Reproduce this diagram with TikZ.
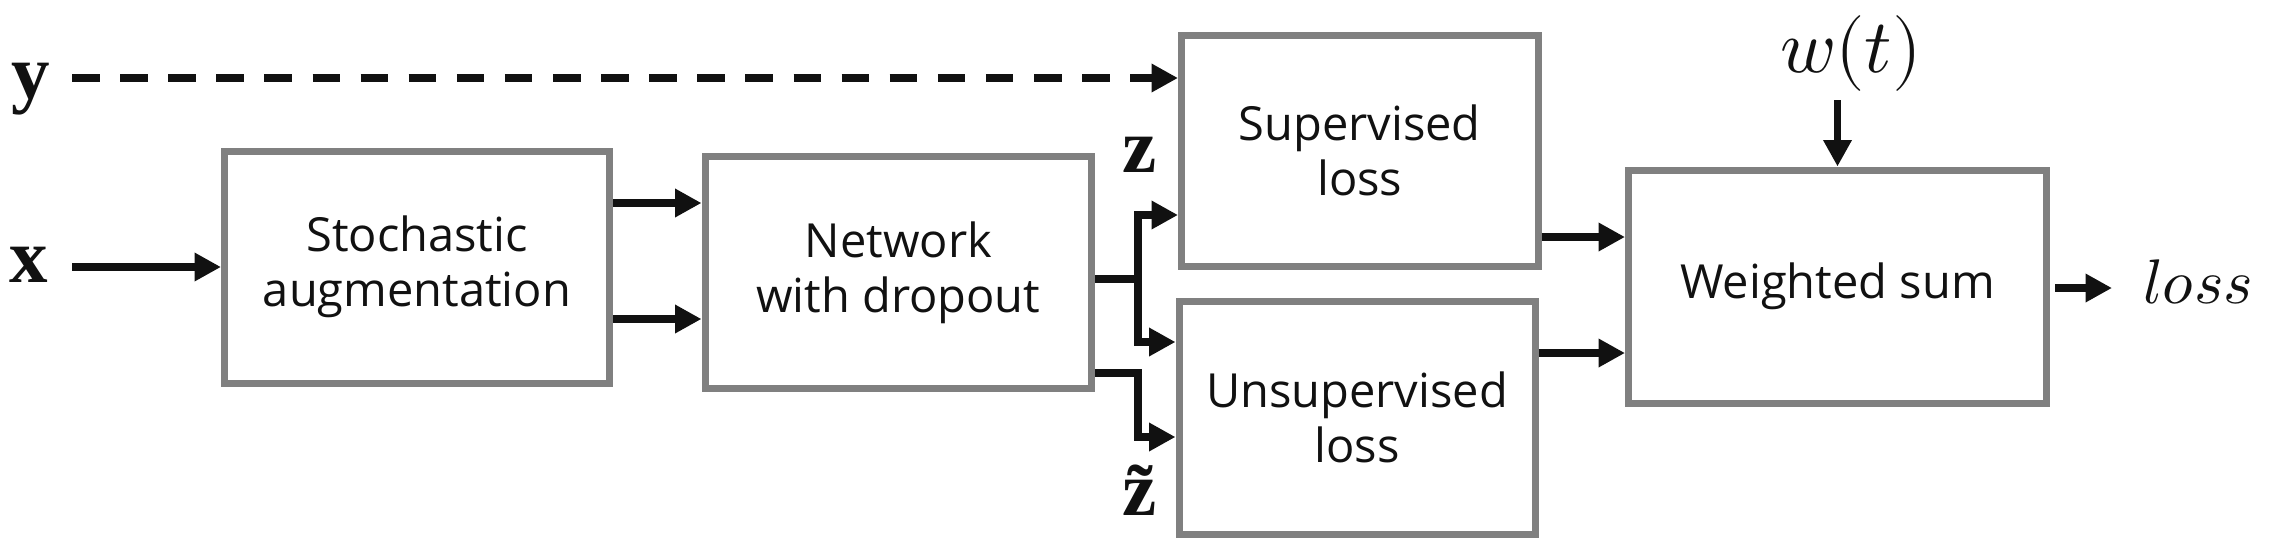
\documentclass[tikz,border=0pt]{standalone}
\usepackage{fontspec}
\usepackage{unicode-math}
\setmainfont{Open Sans}
\setmathfont{Latin Modern Math}
\newfontfamily\timesfam{Liberation Serif}
\usetikzlibrary{arrows.meta,calc}
\definecolor{boxgray}{RGB}{128,128,128}
\definecolor{ink}{RGB}{17,17,17}
\begin{document}
\begin{tikzpicture}[x=0.5pt,y=-0.5pt,
  box/.style={draw=boxgray,line width=3.5pt,inner sep=0pt,align=center,text=ink,
     font=\fontsize{23.5}{27.5}\selectfont},
  arr/.style={draw=ink,line width=3.75pt,-{Triangle[length=13.25pt,width=13.5pt]}},
  wire/.style={draw=ink,line width=3.75pt},
  lab/.style={inner sep=0pt,anchor=base,text=ink,font=\fontsize{38.5}{40}\selectfont\timesfam\bfseries},
  mathlab/.style={inner sep=0pt,anchor=base,text=ink}]
\useasboundingbox (0,0) rectangle (2276,537);
\fill[white] (0,0) rectangle (2276,537);

% boxes
\node[box,minimum width=192.5pt,minimum height=115.75pt] (stoch) at (417,267.25) {Stochastic\\augmentation};
\node[box,minimum width=193.25pt,minimum height=116pt] (net) at (898.25,272.5) {Network\\with dropout};
\node[box,minimum width=178.25pt,minimum height=115.5pt] (sup) at (1359.75,150.5) {Supervised\\loss};
\node[box,minimum width=178pt,minimum height=116.5pt] (unsup) at (1357,417.5) {Unsupervised\\loss};
\node[box,minimum width=209pt,minimum height=116.5pt] (ws) at (1837.5,286.5) {Weighted sum};

% labels
\node[lab] (ylab) at (31,98) {y};
\node[lab] (xlab) at (28.5,282) {x};
\node[lab] (zlab) at (1139.5,172) {z};
\node[lab] (ztlab) at (1140,515) {\~{z}};
\node[mathlab,font=\fontsize{38}{40}\selectfont] (wt) at (1851,72) {$w(t)$};
\node[mathlab,font=\fontsize{31.5}{33}\selectfont] (loss) at (2198.5,303) {$loss$};

% helper coordinates
\coordinate (ystart) at (72,78);
\coordinate (xstart) at (72,267);
\coordinate (ya) at (0,203);
\coordinate (yb) at (0,319);
\coordinate (b1) at (1138,279);
\coordinate (b2) at (1138,373);
\coordinate (yc) at (0,215);
\coordinate (yd) at (0,342);
\coordinate (ye) at (0,437);
\coordinate (yf) at (0,237);
\coordinate (yg) at (0,353);
\coordinate (wstart) at (1837.5,100);
\coordinate (lstart) at (2055,288);
\coordinate (lend) at (2112,288);

% connectors
\draw[arr,dash pattern=on 13.75pt off 10.3pt] (ystart) -- (sup.west |- ystart);
\draw[arr] (xstart) -- (stoch.west |- xstart);
\draw[arr] (stoch.east |- ya) -- (net.west |- ya);
\draw[arr] (stoch.east |- yb) -- (net.west |- yb);
\draw[wire] (net.east |- b1) -- (b1);
\draw[arr] (b1) |- (sup.west |- yc);
\draw[arr] (b1) |- (unsup.west |- yd);
\draw[arr] (net.east |- b2) -- (b2) |- (unsup.west |- ye);
\draw[arr] (sup.east |- yf) -- (ws.west |- yf);
\draw[arr] (unsup.east |- yg) -- (ws.west |- yg);
\draw[arr] (wstart) -- (ws.north);
\draw[arr] (lstart) -- (lend);
\end{tikzpicture}
\end{document}
